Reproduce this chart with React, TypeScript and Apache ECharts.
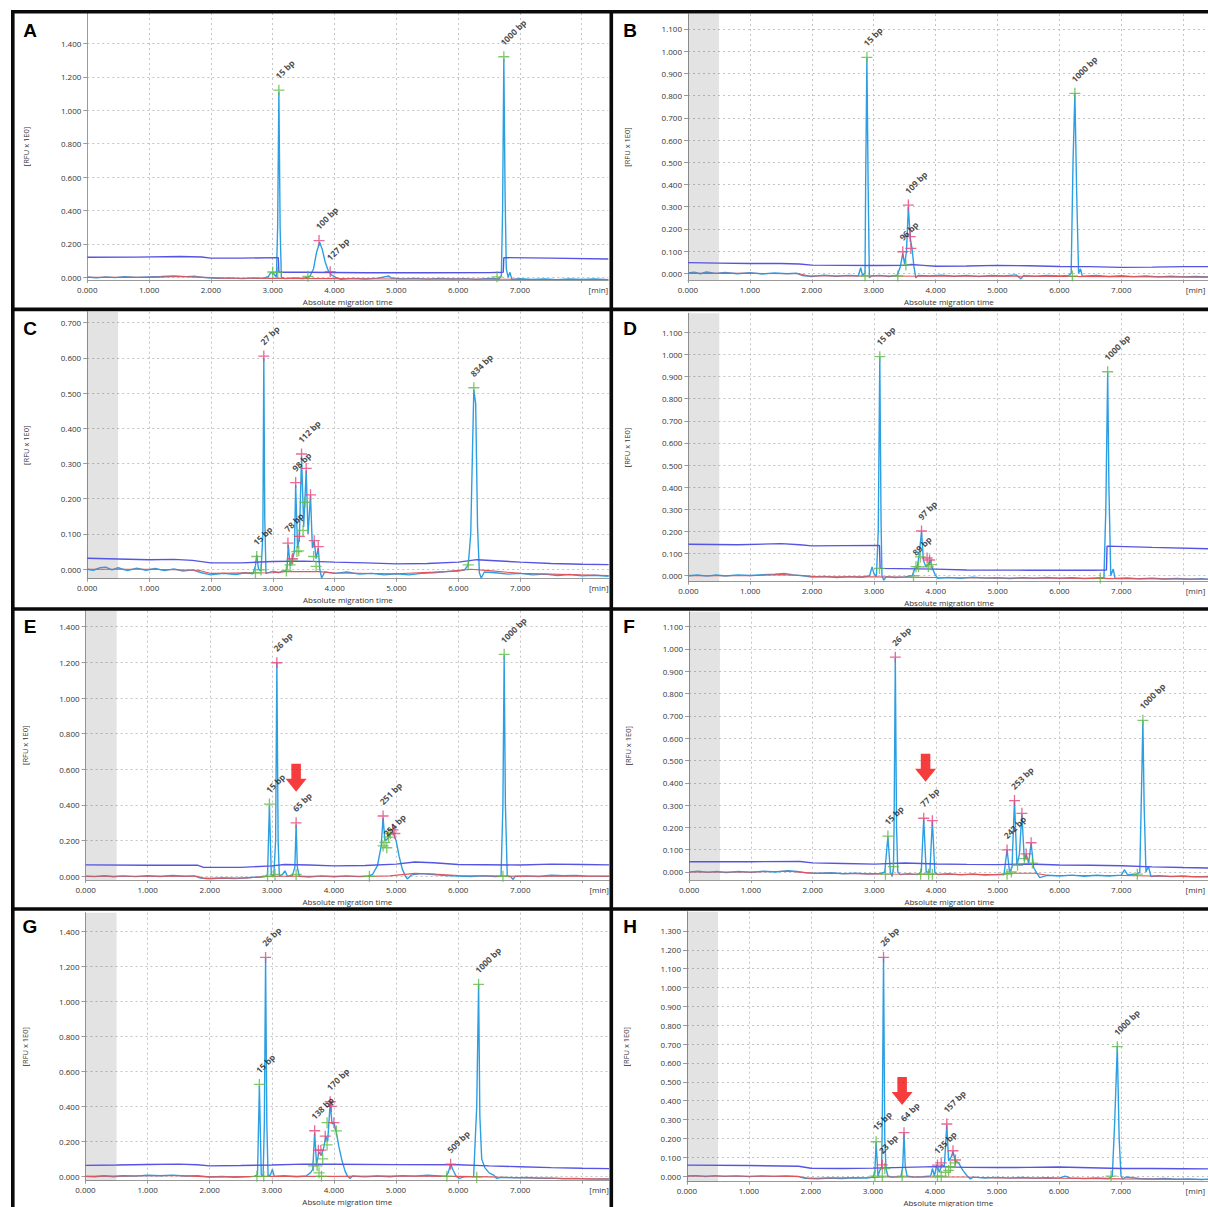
import React, { useEffect, useRef } from "react";
import * as echarts from "echarts";

// ---------- shared axis values ----------
const xTicks = [0, 1, 2, 3, 4, 5, 6, 7, 8];
const xTickLabels = [0, 1, 2, 3, 4, 5, 6, 7];
const shadeRange = [0, 0.5];

// ---------- Panel A ----------
const A_yTicks = [0, 0.2, 0.4, 0.6, 0.8, 1.0, 1.2, 1.4];
const A_trace = [[0,0.002],[0.15,-0.003],[0.3,0.003],[0.45,-0.002],[0.6,0.004],[0.8,0.0],[1.0,0.003],[1.2,0.005],[1.4,0.008],[1.6,0.004],[1.75,0.006],[1.9,-0.002],[2.1,-0.006],[2.3,-0.003],[2.5,-0.008],[2.7,-0.004],[2.85,-0.006],[2.93,0.005],[2.97,0.03],[3.02,0.02],[3.06,0.0],[3.08,0.3],[3.1,1.11],[3.12,0.3],[3.14,0.0],[3.2,-0.008],[3.35,-0.004],[3.5,-0.007],[3.6,0.005],[3.66,0.05],[3.71,0.15],[3.76,0.21],[3.8,0.17],[3.85,0.09],[3.9,0.04],[3.95,0.015],[4.02,0.0],[4.1,-0.012],[4.3,-0.006],[4.5,-0.01],[4.7,-0.005],[4.88,0.008],[4.92,-0.004],[5.1,-0.009],[5.3,-0.006],[5.5,-0.011],[5.7,-0.007],[5.9,-0.01],[6.1,-0.008],[6.3,-0.012],[6.5,-0.007],[6.66,-0.01],[6.7,0.01],[6.72,0.4],[6.74,1.31],[6.76,0.5],[6.78,0.05],[6.81,0.0],[6.84,0.03],[6.87,-0.012],[7.0,-0.008],[7.2,-0.013],[7.4,-0.009],[7.6,-0.014],[7.8,-0.01],[8.0,-0.013],[8.2,-0.01],[8.43,-0.014]];
const A_threshold = [[0,0.12],[0.8,0.121],[1.5,0.125],[1.85,0.122],[2.0,0.115],[2.5,0.115],[3.09,0.118],[3.1,0.03],[3.5,0.03],[4.5,0.027],[5.5,0.027],[6.5,0.028],[6.73,0.03],[6.74,0.118],[7.5,0.115],[8.43,0.11]];
const A_base = [[0,0.0],[1.0,0.0],[1.5,0.005],[1.9,0.0],[2.2,-0.005],[3.0,-0.006],[4.0,-0.008],[5.0,-0.01],[6.0,-0.01],[7.0,-0.012],[8.43,-0.013]];
const A_green = [[3.1,1.12],[3.0,0.032],[3.08,0.03],[3.57,0.006],[6.74,1.32],[6.63,0.003]];
const A_pink = [[3.75,0.22],[3.93,0.034]];
const A_labels = [[3.1,1.12,"15 bp"],[3.75,0.22,"100 bp"],[3.93,0.034,"127 bp"],[6.74,1.32,"1000 bp"]];
const A_arrows = [];

// ---------- Panel B ----------
const B_yTicks = [0, 0.1, 0.2, 0.3, 0.4, 0.5, 0.6, 0.7, 0.8, 0.9, 1.0, 1.1];
const B_trace = [[0,0.002],[0.1,0.005],[0.2,-0.002],[0.3,0.006],[0.45,0.0],[0.6,0.004],[0.8,-0.002],[1.0,0.003],[1.2,-0.003],[1.4,0.002],[1.6,-0.002],[1.75,0.001],[1.85,-0.01],[2.0,-0.014],[2.2,-0.008],[2.4,-0.013],[2.6,-0.009],[2.75,-0.012],[2.79,0.025],[2.82,-0.01],[2.86,0.0],[2.87,0.4],[2.89,0.97],[2.91,0.4],[2.93,-0.02],[2.96,-0.012],[3.1,-0.009],[3.25,-0.014],[3.38,-0.008],[3.43,0.03],[3.47,0.09],[3.5,0.04],[3.53,0.1],[3.56,0.3],[3.59,0.16],[3.62,0.11],[3.65,0.03],[3.68,-0.02],[3.72,-0.01],[3.9,-0.012],[4.1,-0.008],[4.3,-0.013],[4.5,-0.009],[4.7,-0.014],[4.9,-0.01],[5.1,-0.012],[5.3,-0.007],[5.38,-0.025],[5.42,-0.01],[5.6,-0.013],[5.8,-0.009],[6.0,-0.012],[6.15,-0.01],[6.19,0.0],[6.22,0.5],[6.25,0.81],[6.28,0.35],[6.31,0.0],[6.34,0.02],[6.37,-0.013],[6.6,-0.01],[6.8,-0.014],[7.0,-0.011],[7.2,-0.015],[7.4,-0.012],[7.6,-0.016],[7.8,-0.013],[8.0,-0.016],[8.2,-0.014],[8.43,-0.017]];
const B_threshold = [[0,0.048],[0.5,0.046],[1.0,0.044],[1.5,0.044],[1.8,0.042],[2.0,0.037],[2.5,0.036],[3.0,0.035],[3.5,0.036],[3.6,0.04],[3.8,0.036],[4.0,0.032],[4.5,0.033],[5.0,0.036],[5.5,0.034],[6.0,0.031],[6.5,0.03],[7.0,0.027],[7.5,0.028],[8.0,0.03],[8.43,0.03]];
const B_base = [[0,0.0],[1.0,0.0],[1.8,-0.002],[1.95,-0.012],[3.0,-0.012],[4.0,-0.013],[5.0,-0.013],[6.0,-0.014],[7.0,-0.015],[8.43,-0.017]];
const B_green = [[2.89,0.972],[2.86,-0.012],[3.39,-0.012],[3.52,0.037],[6.25,0.81],[6.21,-0.012]];
const B_pink = [[3.56,0.307],[3.59,0.165],[3.47,0.097],[3.6,0.112]];
const B_labels = [[2.89,0.972,"15 bp"],[3.56,0.307,"109 bp"],[3.47,0.097,"96 bp"],[6.25,0.81,"1000 bp"]];
const B_arrows = [];

// ---------- Panel C ----------
const C_yTicks = [0, 0.1, 0.2, 0.3, 0.4, 0.5, 0.6, 0.7];
const C_trace = [[0,0.0],[0.1,-0.003],[0.2,0.004],[0.3,0.006],[0.4,-0.002],[0.5,0.004],[0.65,-0.004],[0.8,0.003],[0.95,-0.003],[1.1,0.002],[1.25,-0.004],[1.4,0.001],[1.55,-0.005],[1.7,-0.002],[1.85,-0.01],[2.0,-0.016],[2.2,-0.012],[2.4,-0.015],[2.55,-0.01],[2.68,-0.013],[2.72,0.01],[2.74,0.04],[2.77,0.0],[2.81,-0.005],[2.84,0.1],[2.855,0.6],[2.87,0.15],[2.89,-0.012],[3.0,-0.006],[3.1,-0.01],[3.2,-0.004],[3.23,0.0],[3.25,0.07],[3.28,0.01],[3.32,0.03],[3.35,0.05],[3.37,0.24],[3.4,0.06],[3.43,0.09],[3.465,0.32],[3.5,0.12],[3.54,0.28],[3.57,0.1],[3.61,0.21],[3.64,0.06],[3.67,0.08],[3.7,0.03],[3.735,0.06],[3.76,0.0],[3.79,-0.025],[3.84,-0.008],[4.0,-0.012],[4.2,-0.008],[4.4,-0.014],[4.6,-0.012],[4.8,-0.016],[5.0,-0.013],[5.2,-0.016],[5.4,-0.012],[5.6,-0.01],[5.8,-0.007],[6.0,-0.005],[6.1,-0.002],[6.16,0.012],[6.2,0.1],[6.23,0.35],[6.25,0.51],[6.28,0.47],[6.31,0.12],[6.34,-0.01],[6.37,-0.025],[6.42,-0.008],[6.6,-0.01],[6.8,-0.014],[7.0,-0.012],[7.2,-0.016],[7.4,-0.014],[7.6,-0.018],[7.8,-0.015],[8.0,-0.019],[8.2,-0.017],[8.43,-0.02]];
const C_threshold = [[0,0.031],[0.5,0.029],[1.0,0.027],[1.4,0.028],[1.7,0.025],[2.0,0.018],[2.5,0.018],[3.0,0.022],[3.5,0.023],[4.0,0.02],[4.5,0.018],[5.0,0.015],[5.5,0.016],[6.0,0.02],[6.3,0.027],[6.6,0.024],[7.0,0.02],[7.5,0.016],[8.0,0.014],[8.43,0.013]];
const C_base = [[0,0.0],[1.0,0.0],[1.8,-0.003],[2.0,-0.012],[3.0,-0.01],[3.2,-0.007],[3.75,-0.007],[4.0,-0.011],[5.0,-0.013],[5.8,-0.007],[6.2,0.0],[6.5,-0.004],[7.0,-0.012],[8.43,-0.018]];
const C_green = [[2.74,0.036],[2.72,-0.01],[2.81,-0.002],[3.22,-0.005],[3.28,0.012],[3.31,0.026],[3.39,0.05],[3.42,0.052],[3.49,0.11],[3.52,0.19],[3.66,0.036],[3.7,0.008],[6.25,0.515],[6.16,0.012]];
const C_pink = [[2.855,0.605],[3.245,0.074],[3.32,0.03],[3.37,0.246],[3.43,0.093],[3.465,0.327],[3.54,0.286],[3.61,0.211],[3.67,0.081],[3.735,0.064]];
const C_labels = [[2.855,0.605,"27 bp"],[2.74,0.036,"15 bp"],[3.245,0.074,"78 bp"],[3.37,0.246,"98 bp"],[3.465,0.327,"112 bp"],[6.25,0.515,"834 bp"]];
const C_arrows = [];

// ---------- Panel D ----------
const D_yTicks = [0, 0.1, 0.2, 0.3, 0.4, 0.5, 0.6, 0.7, 0.8, 0.9, 1.0, 1.1];
const D_trace = [[0,0.0],[0.15,0.003],[0.3,-0.002],[0.45,0.003],[0.6,-0.001],[0.8,0.004],[1.0,0.001],[1.2,0.005],[1.4,0.007],[1.55,0.01],[1.7,0.004],[1.85,0.0],[2.0,-0.006],[2.2,-0.003],[2.4,-0.008],[2.6,-0.004],[2.8,-0.007],[2.93,0.0],[2.97,0.04],[3.0,0.01],[3.04,-0.005],[3.07,0.2],[3.095,0.99],[3.115,0.25],[3.13,0.0],[3.16,-0.02],[3.2,-0.004],[3.35,-0.008],[3.5,-0.005],[3.62,0.0],[3.66,0.03],[3.7,0.04],[3.73,0.09],[3.77,0.2],[3.8,0.07],[3.84,0.04],[3.88,0.05],[3.91,0.07],[3.95,0.03],[3.99,0.005],[4.03,-0.012],[4.2,-0.008],[4.4,-0.012],[4.6,-0.007],[4.8,-0.011],[5.0,-0.009],[5.2,-0.013],[5.4,-0.009],[5.6,-0.012],[5.8,-0.008],[6.0,-0.012],[6.2,-0.009],[6.4,-0.013],[6.6,-0.01],[6.72,-0.008],[6.75,0.3],[6.78,0.92],[6.8,0.4],[6.83,0.0],[6.87,0.03],[6.9,-0.012],[7.1,-0.01],[7.3,-0.014],[7.5,-0.011],[7.7,-0.015],[7.9,-0.012],[8.1,-0.016],[8.3,-0.013],[8.43,-0.016]];
const D_threshold = [[0,0.142],[0.8,0.14],[1.5,0.145],[1.8,0.14],[2.0,0.135],[2.5,0.136],[3.09,0.137],[3.1,0.033],[4.0,0.03],[4.5,0.026],[5.5,0.025],[6.5,0.025],[6.76,0.026],[6.77,0.134],[7.5,0.128],[8.43,0.122]];
const D_base = [[0,0.0],[1.0,0.0],[1.5,0.005],[1.9,0.0],[2.1,-0.005],[3.0,-0.005],[4.0,-0.008],[5.0,-0.01],[6.0,-0.011],[7.0,-0.013],[8.43,-0.016]];
const D_green = [[3.095,0.99],[3.09,0.033],[3.64,0.0],[3.68,0.041],[3.72,0.04],[3.75,0.085],[3.88,0.04],[3.93,0.05],[6.78,0.922],[6.66,-0.01]];
const D_pink = [[3.77,0.202],[3.9,0.071],[3.86,0.08]];
const D_labels = [[3.095,0.99,"15 bp"],[3.77,0.202,"97 bp"],[3.68,0.041,"89 bp"],[6.78,0.922,"1000 bp"]];
const D_arrows = [];

// ---------- Panel E ----------
const E_yTicks = [0, 0.2, 0.4, 0.6, 0.8, 1.0, 1.2, 1.4];
const E_trace = [[0,0.0],[0.15,-0.002],[0.3,0.003],[0.45,-0.003],[0.6,0.002],[0.8,-0.002],[1.0,0.003],[1.2,-0.001],[1.4,0.004],[1.6,0.0],[1.75,0.002],[1.85,-0.01],[2.0,-0.014],[2.2,-0.01],[2.4,-0.013],[2.6,-0.008],[2.8,-0.004],[2.9,0.0],[2.93,0.01],[2.96,0.4],[2.99,0.01],[3.03,0.0],[3.06,0.2],[3.08,1.2],[3.1,0.2],[3.12,0.0],[3.17,0.01],[3.21,0.03],[3.25,0.0],[3.33,0.005],[3.37,0.05],[3.39,0.29],[3.41,0.05],[3.44,0.0],[3.6,-0.004],[3.8,0.002],[4.0,-0.003],[4.2,0.002],[4.4,-0.002],[4.55,0.0],[4.62,0.01],[4.7,0.06],[4.76,0.17],[4.79,0.33],[4.82,0.2],[4.86,0.21],[4.9,0.23],[4.95,0.25],[5.0,0.2],[5.05,0.11],[5.1,0.04],[5.15,0.0],[5.18,-0.015],[5.25,0.008],[5.4,0.015],[5.6,0.01],[5.8,0.004],[6.0,0.001],[6.2,-0.002],[6.4,0.002],[6.6,-0.002],[6.69,0.0],[6.72,0.4],[6.74,1.24],[6.76,0.4],[6.79,0.0],[6.85,-0.003],[6.88,-0.018],[6.92,0.0],[7.1,0.002],[7.3,-0.001],[7.5,0.006],[7.7,0.003],[7.9,0.005],[8.1,0.001],[8.43,0.0]];
const E_threshold = [[0,0.064],[1.0,0.062],[1.8,0.062],[1.9,0.05],[2.5,0.05],[3.0,0.058],[3.2,0.066],[3.6,0.063],[4.0,0.058],[4.5,0.06],[5.0,0.068],[5.3,0.08],[5.6,0.076],[6.0,0.066],[7.0,0.063],[7.5,0.068],[8.0,0.066],[8.43,0.064]];
const E_base = [[0,0.0],[1.8,0.0],[1.9,-0.012],[2.6,-0.009],[3.0,0.0],[4.6,0.0],[4.9,0.002],[5.3,0.016],[5.6,0.013],[6.0,0.004],[7.0,0.0],[8.43,0.0]];
const E_green = [[2.96,0.405],[2.93,0.0],[3.05,0.01],[3.39,0.01],[4.57,0.0],[4.79,0.17],[4.82,0.19],[4.85,0.16],[4.88,0.22],[4.91,0.24],[6.74,1.245],[6.72,0.0]];
const E_pink = [[3.08,1.198],[3.39,0.3],[4.79,0.338],[4.95,0.26],[4.98,0.24]];
const E_labels = [[3.08,1.198,"26 bp"],[2.96,0.405,"15 bp"],[3.39,0.3,"65 bp"],[4.79,0.338,"251 bp"],[4.85,0.16,"254 bp"],[6.74,1.245,"1000 bp"]];
const E_arrows = [[3.39,0.474]];

// ---------- Panel F ----------
const F_yTicks = [0, 0.1, 0.2, 0.3, 0.4, 0.5, 0.6, 0.7, 0.8, 0.9, 1.0, 1.1];
const F_trace = [[0,0.0],[0.15,0.003],[0.3,-0.002],[0.45,0.002],[0.6,-0.003],[0.8,0.002],[1.0,-0.002],[1.2,0.003],[1.4,0.0],[1.6,0.006],[1.75,0.002],[1.9,-0.004],[2.1,-0.006],[2.3,-0.003],[2.5,-0.008],[2.7,-0.005],[2.9,-0.009],[3.1,-0.007],[3.17,0.0],[3.22,0.16],[3.26,0.0],[3.29,-0.02],[3.31,0.02],[3.32,0.2],[3.34,0.96],[3.36,0.2],[3.38,0.0],[3.42,-0.012],[3.55,-0.008],[3.7,-0.012],[3.76,0.0],[3.8,0.24],[3.84,0.0],[3.9,0.0],[3.94,0.23],[3.98,0.0],[4.02,-0.012],[4.2,-0.008],[4.4,-0.013],[4.6,-0.009],[4.8,-0.014],[5.0,-0.011],[5.1,-0.013],[5.15,0.1],[5.19,0.0],[5.23,0.02],[5.27,0.32],[5.31,0.03],[5.35,0.08],[5.39,0.26],[5.43,0.05],[5.46,0.08],[5.5,0.04],[5.54,0.13],[5.58,0.02],[5.62,0.0],[5.68,-0.025],[5.8,-0.015],[6.0,-0.018],[6.2,-0.014],[6.4,-0.019],[6.6,-0.015],[6.8,-0.018],[7.0,-0.014],[7.05,0.01],[7.1,-0.012],[7.25,-0.01],[7.3,0.0],[7.33,0.4],[7.35,0.68],[7.37,0.3],[7.4,0.0],[7.44,0.025],[7.48,-0.02],[7.6,-0.017],[7.8,-0.021],[8.0,-0.018],[8.2,-0.022],[8.43,-0.02]];
const F_threshold = [[0,0.046],[1.0,0.046],[1.8,0.047],[2.0,0.041],[2.5,0.038],[3.0,0.035],[3.5,0.04],[4.0,0.036],[4.5,0.034],[5.0,0.033],[5.5,0.036],[6.0,0.031],[6.5,0.03],[7.0,0.028],[7.5,0.023],[8.0,0.02],[8.43,0.018]];
const F_base = [[0,0.0],[1.0,0.0],[1.6,0.003],[2.0,-0.005],[3.0,-0.009],[4.0,-0.01],[5.0,-0.012],[5.2,-0.006],[5.6,-0.006],[5.8,-0.015],[7.0,-0.016],[8.43,-0.022]];
const F_green = [[3.22,0.161],[3.18,-0.01],[3.31,0.024],[3.75,-0.01],[3.88,-0.01],[3.94,-0.01],[5.15,-0.01],[5.22,0.0],[5.32,0.03],[5.43,0.06],[5.56,0.04],[7.35,0.68],[7.26,-0.01]];
const F_pink = [[3.34,0.963],[3.8,0.241],[3.94,0.23],[5.27,0.32],[5.39,0.263],[5.15,0.099],[5.54,0.131],[5.46,0.081]];
const F_labels = [[3.34,0.963,"26 bp"],[3.22,0.161,"15 bp"],[3.8,0.241,"77 bp"],[5.27,0.32,"253 bp"],[5.15,0.099,"242 bp"],[7.35,0.68,"1000 bp"]];
const F_arrows = [[3.83,0.405]];

// ---------- Panel G ----------
const G_yTicks = [0, 0.2, 0.4, 0.6, 0.8, 1.0, 1.2, 1.4];
const G_trace = [[0,0.0],[0.15,-0.002],[0.3,0.003],[0.45,-0.002],[0.6,0.003],[0.8,0.001],[1.0,0.006],[1.2,0.003],[1.4,0.007],[1.6,0.002],[1.8,0.004],[2.0,-0.004],[2.2,-0.001],[2.4,-0.005],[2.6,-0.002],[2.72,0.0],[2.77,0.01],[2.8,0.52],[2.83,0.01],[2.86,0.0],[2.88,0.3],[2.9,1.25],[2.92,0.3],[2.94,0.0],[2.98,0.01],[3.01,0.04],[3.04,0.0],[3.2,0.003],[3.4,-0.002],[3.55,0.002],[3.62,0.02],[3.66,0.04],[3.69,0.25],[3.72,0.07],[3.76,0.14],[3.8,0.12],[3.84,0.17],[3.87,0.23],[3.9,0.2],[3.94,0.42],[3.97,0.3],[4.0,0.31],[4.04,0.25],[4.08,0.17],[4.13,0.09],[4.18,0.03],[4.22,0.0],[4.26,-0.012],[4.3,0.002],[4.5,-0.003],[4.7,0.002],[4.9,-0.002],[5.1,0.004],[5.3,0.001],[5.5,0.006],[5.7,0.002],[5.8,0.0],[5.84,0.02],[5.88,0.07],[5.92,0.035],[5.97,0.0],[6.02,-0.012],[6.1,-0.003],[6.25,0.0],[6.3,0.4],[6.33,1.1],[6.35,0.35],[6.38,0.1],[6.43,0.05],[6.5,0.02],[6.58,0.005],[6.62,-0.012],[6.7,-0.006],[6.9,-0.009],[7.1,-0.007],[7.3,-0.011],[7.5,-0.01],[7.7,-0.014],[7.9,-0.012],[8.1,-0.016],[8.43,-0.015]];
const G_threshold = [[0,0.063],[0.5,0.065],[1.0,0.068],[1.5,0.07],[1.8,0.066],[2.0,0.06],[2.5,0.062],[3.0,0.065],[3.5,0.07],[4.0,0.069],[5.0,0.067],[6.0,0.066],[6.5,0.06],[7.0,0.055],[7.5,0.05],[8.0,0.046],[8.43,0.044]];
const G_base = [[0,0.0],[1.0,0.003],[1.5,0.003],[2.0,-0.003],[3.0,0.0],[4.0,0.0],[5.0,0.002],[6.0,0.0],[6.5,-0.003],[7.0,-0.008],[8.43,-0.015]];
const G_green = [[2.8,0.526],[2.76,0.0],[2.87,0.0],[3.67,0.06],[3.73,0.06],[3.76,0.02],[3.8,0.0],[3.82,0.1],[3.89,0.18],[3.89,0.307],[4.04,0.26],[5.82,0.0],[6.33,1.099],[6.3,-0.005]];
const G_pink = [[2.9,1.253],[3.69,0.261],[3.75,0.15],[3.79,0.15],[3.86,0.23],[3.94,0.427],[3.96,0.4],[4.0,0.307],[5.88,0.069]];
const G_labels = [[2.9,1.253,"26 bp"],[2.8,0.526,"15 bp"],[3.94,0.427,"170 bp"],[3.69,0.261,"138 bp"],[5.88,0.069,"509 bp"],[6.33,1.099,"1000 bp"]];
const G_arrows = [];

// ---------- Panel H ----------
const H_yTicks = [0, 0.1, 0.2, 0.3, 0.4, 0.5, 0.6, 0.7, 0.8, 0.9, 1.0, 1.1, 1.2, 1.3];
const H_trace = [[0,0.0],[0.15,0.002],[0.3,-0.003],[0.45,0.002],[0.6,-0.002],[0.8,0.001],[1.0,-0.003],[1.2,0.001],[1.4,-0.002],[1.6,0.001],[1.8,-0.003],[1.9,-0.012],[2.1,-0.014],[2.3,-0.01],[2.5,-0.013],[2.7,-0.009],[2.9,-0.011],[3.0,-0.005],[3.03,0.02],[3.05,0.18],[3.08,0.0],[3.11,0.03],[3.14,0.05],[3.15,0.3],[3.17,1.16],[3.19,0.2],[3.21,0.04],[3.24,0.0],[3.3,-0.006],[3.45,-0.003],[3.48,0.05],[3.5,0.23],[3.52,0.05],[3.55,0.0],[3.65,-0.006],[3.8,-0.004],[3.93,0.0],[3.96,0.04],[3.99,0.0],[4.03,0.06],[4.07,0.02],[4.11,0.06],[4.15,0.05],[4.19,0.27],[4.22,0.08],[4.26,0.1],[4.29,0.13],[4.33,0.08],[4.38,0.07],[4.45,0.03],[4.52,0.0],[4.57,-0.015],[4.62,-0.006],[4.8,-0.01],[5.0,-0.007],[5.2,-0.011],[5.4,-0.008],[5.6,-0.012],[5.8,-0.009],[6.0,-0.011],[6.1,0.0],[6.18,-0.01],[6.4,-0.013],[6.6,-0.01],[6.8,-0.013],[6.86,0.0],[6.9,0.3],[6.94,0.69],[6.97,0.2],[7.0,0.0],[7.03,-0.015],[7.08,-0.005],[7.3,-0.013],[7.5,-0.016],[7.7,-0.013],[7.9,-0.017],[8.1,-0.015],[8.3,-0.018],[8.43,-0.016]];
const H_threshold = [[0,0.058],[1.0,0.056],[1.8,0.052],[2.0,0.041],[2.5,0.04],[3.0,0.042],[3.5,0.046],[4.0,0.05],[4.5,0.046],[5.0,0.045],[5.5,0.046],[6.0,0.048],[6.5,0.044],[7.0,0.04],[7.5,0.04],[8.0,0.039],[8.43,0.038]];
const H_base = [[0,0.0],[1.8,-0.002],[1.95,-0.012],[3.0,-0.008],[3.2,-0.005],[4.5,-0.005],[5.0,-0.01],[6.0,-0.012],[7.0,-0.015],[8.43,-0.018]];
const H_green = [[3.05,0.182],[3.03,0.0],[3.15,0.0],[3.19,0.04],[3.47,0.0],[4.04,0.0],[4.1,0.0],[4.17,0.02],[4.22,0.03],[4.25,0.05],[4.32,0.07],[6.94,0.686],[6.84,0.0]];
const H_pink = [[3.17,1.16],[3.15,0.059],[3.5,0.23],[4.19,0.276],[4.04,0.058],[4.1,0.07],[4.29,0.134],[4.33,0.085]];
const H_labels = [[3.17,1.16,"26 bp"],[3.05,0.182,"15 bp"],[3.15,0.059,"23 bp"],[3.5,0.23,"64 bp"],[4.19,0.276,"157 bp"],[4.04,0.058,"135 bp"],[6.94,0.686,"1000 bp"]];
const H_arrows = [[3.47,0.377]];

// ---------- assemble panels (data) ----------
const panels = [
  { id: "A", yTicks: A_yTicks, trace: A_trace, threshold: A_threshold, base: A_base, green: A_green, pink: A_pink, labels: A_labels, arrows: A_arrows, shaded: false },
  { id: "B", yTicks: B_yTicks, trace: B_trace, threshold: B_threshold, base: B_base, green: B_green, pink: B_pink, labels: B_labels, arrows: B_arrows, shaded: true },
  { id: "C", yTicks: C_yTicks, trace: C_trace, threshold: C_threshold, base: C_base, green: C_green, pink: C_pink, labels: C_labels, arrows: C_arrows, shaded: true },
  { id: "D", yTicks: D_yTicks, trace: D_trace, threshold: D_threshold, base: D_base, green: D_green, pink: D_pink, labels: D_labels, arrows: D_arrows, shaded: true },
  { id: "E", yTicks: E_yTicks, trace: E_trace, threshold: E_threshold, base: E_base, green: E_green, pink: E_pink, labels: E_labels, arrows: E_arrows, shaded: true },
  { id: "F", yTicks: F_yTicks, trace: F_trace, threshold: F_threshold, base: F_base, green: F_green, pink: F_pink, labels: F_labels, arrows: F_arrows, shaded: true },
  { id: "G", yTicks: G_yTicks, trace: G_trace, threshold: G_threshold, base: G_base, green: G_green, pink: G_pink, labels: G_labels, arrows: G_arrows, shaded: true },
  { id: "H", yTicks: H_yTicks, trace: H_trace, threshold: H_threshold, base: H_base, green: H_green, pink: H_pink, labels: H_labels, arrows: H_arrows, shaded: true },
];

// ---------- layout (positions / sizes, px) ----------
const X_MAX = 8.43;
const layout = [
  { left: 87.3, top: 13, ppm: 61.8, height: 267, ymin: -0.016, ymax: 1.582, unitAt: 8.27, letter: [30, 30] },
  { left: 688, top: 14, ppm: 61.9, height: 266, ymin: -0.03, ymax: 1.167, unitAt: 8.2, letter: [630, 30] },
  { left: 87.2, top: 311.7, ppm: 61.86, height: 267, ymin: -0.027, ymax: 0.731, unitAt: 8.27, letter: [30, 328] },
  { left: 688.4, top: 313.3, ppm: 61.84, height: 268.4, ymin: -0.027, ymax: 1.186, unitAt: 8.2, letter: [630, 328] },
  { left: 85.6, top: 610.7, ppm: 62.1, height: 269.3, ymin: -0.021, ymax: 1.49, unitAt: 8.27, letter: [30, 626] },
  { left: 689.1, top: 611.7, ppm: 61.74, height: 268.3, ymin: -0.036, ymax: 1.167, unitAt: 8.2, letter: [629, 626] },
  { left: 85.5, top: 912.7, ppm: 62.1, height: 268, ymin: -0.025, ymax: 1.509, unitAt: 8.27, letter: [30, 926] },
  { left: 687, top: 911.7, ppm: 62.0, height: 270, ymin: -0.03, ymax: 1.402, unitAt: 8.2, letter: [630, 926] },
];

const FONT = "'Open Sans', 'Noto Sans', sans-serif";
const CROSS = "path://M4.4,0H5.6V4.4H10V5.6H5.6V10H4.4V5.6H0V4.4H4.4Z";
const ARROW = "path://M6,0H16V15H22L11,28L0,15H6Z";

function buildOption() {
  const grid: any[] = [];
  const xAxis: any[] = [];
  const yAxis: any[] = [];
  const series: any[] = [];
  const graphic: any[] = [];

  panels.forEach((p, i) => {
    const L = layout[i];
    grid.push({
      left: L.left,
      top: L.top,
      width: X_MAX * L.ppm,
      height: L.height,
      containLabel: false,
      outerBoundsMode: "none",
    });
    xAxis.push({
      gridIndex: i,
      type: "value",
      min: 0,
      max: X_MAX,
      name: "Absolute migration time",
      nameLocation: "middle",
      nameGap: 17,
      nameTextStyle: { fontSize: 8, color: "#333", fontFamily: FONT },
      axisLine: { show: true, onZero: false, lineStyle: { color: "#9a9a9a", width: 1 } },
      axisTick: { show: true, length: 3, customValues: xTicks, lineStyle: { color: "#9a9a9a" } },
      axisLabel: {
        customValues: [...xTickLabels, L.unitAt],
        formatter: (v: number) => (v > 8.1 ? "[min]" : v.toFixed(3)),
        fontSize: 8,
        color: "#333",
        margin: 5,
        fontFamily: FONT,
        hideOverlap: false,
      },
      splitLine: { show: true, lineStyle: { type: [2, 3], color: "#c4c4c4", width: 1 } },
    });
    yAxis.push({
      gridIndex: i,
      type: "value",
      min: L.ymin,
      max: L.ymax,
      name: "[RFU x 1E0]",
      nameLocation: "middle",
      nameRotate: 90,
      nameGap: 57,
      nameTextStyle: { fontSize: 7.5, color: "#333", fontFamily: FONT },
      axisLine: { show: true, lineStyle: { color: "#9a9a9a", width: 1 } },
      axisTick: { show: true, length: 4, customValues: p.yTicks, lineStyle: { color: "#9a9a9a" } },
      axisLabel: {
        customValues: p.yTicks,
        formatter: (v: number) => v.toFixed(3),
        fontSize: 8,
        color: "#333",
        margin: 6,
        fontFamily: FONT,
      },
      splitLine: { show: true, lineStyle: { type: [2, 3], color: "#c4c4c4", width: 1 } },
    });

    series.push({
      type: "line",
      xAxisIndex: i,
      yAxisIndex: i,
      data: p.trace,
      symbol: "none",
      silent: true,
      z: 2,
      lineStyle: { color: "#2c9fe3", width: 1.4 },
      markArea: p.shaded
        ? {
            silent: true,
            itemStyle: { color: "rgba(0,0,0,0.11)" },
            data: [[{ xAxis: shadeRange[0] }, { xAxis: shadeRange[1] }]],
          }
        : undefined,
    });
    series.push({
      type: "line",
      xAxisIndex: i,
      yAxisIndex: i,
      data: p.base,
      symbol: "none",
      silent: true,
      z: 3,
      lineStyle: { color: "#e2545a", width: 1.1 },
    });
    series.push({
      type: "line",
      xAxisIndex: i,
      yAxisIndex: i,
      data: p.threshold,
      symbol: "none",
      silent: true,
      z: 3,
      lineStyle: { color: "#5654e2", width: 1.4 },
    });
    series.push({
      type: "scatter",
      xAxisIndex: i,
      yAxisIndex: i,
      data: p.green,
      symbol: CROSS,
      symbolSize: 11,
      silent: true,
      z: 4,
      itemStyle: { color: "#5fbb47" },
    });
    series.push({
      type: "scatter",
      xAxisIndex: i,
      yAxisIndex: i,
      data: p.pink,
      symbol: CROSS,
      symbolSize: 11,
      silent: true,
      z: 4,
      itemStyle: { color: "#e5457a" },
    });
    series.push({
      type: "scatter",
      xAxisIndex: i,
      yAxisIndex: i,
      data: p.labels.map((l: any) => ({ value: [l[0], l[1]], name: l[2] })),
      symbol: "circle",
      symbolSize: 10,
      silent: true,
      z: 5,
      itemStyle: { color: "rgba(0,0,0,0)" },
      label: {
        show: true,
        formatter: "{b}",
        position: "top",
        distance: 10,
        rotate: 45,
        align: "left",
        verticalAlign: "middle",
        offset: [-3, 0],
        fontSize: 8.5,
        fontWeight: "bold",
        color: "#1c1c1c",
        fontFamily: FONT,
      },
    });
    if (p.arrows.length) {
      series.push({
        type: "scatter",
        xAxisIndex: i,
        yAxisIndex: i,
        data: p.arrows,
        symbol: ARROW,
        symbolSize: [21, 28],
        symbolOffset: [0, "-50%"],
        silent: true,
        z: 6,
        itemStyle: { color: "#f20d0d" },
      });
    }

    graphic.push({
      type: "text",
      x: L.letter[0],
      y: L.letter[1],
      z: 100,
      style: {
        text: p.id,
        fill: "#000",
        fontSize: 19,
        fontWeight: "bold",
        fontFamily: "'Liberation Sans', Arial, sans-serif",
        align: "center",
        verticalAlign: "middle",
      },
    });
  });

  // black panel frame bars
  const bars = [
    { x: 11, y: 10, w: 1197, h: 3.6 },
    { x: 11, y: 10, w: 3.6, h: 1197 },
    { x: 609.5, y: 10, w: 3.6, h: 1197 },
    { x: 11, y: 307.6, w: 1197, h: 3.6 },
    { x: 11, y: 607.2, w: 1197, h: 3.6 },
    { x: 11, y: 907.2, w: 1197, h: 3.6 },
  ];
  bars.forEach((b) =>
    graphic.push({
      type: "rect",
      z: 90,
      shape: { x: b.x, y: b.y, width: b.w, height: b.h },
      style: { fill: "#0a0a0a" },
      silent: true,
    })
  );

  return {
    animation: false,
    backgroundColor: "#ffffff",
    textStyle: { fontFamily: FONT },
    grid,
    xAxis,
    yAxis,
    series,
    graphic,
  };
}

export default function App() {
  const ref = useRef<HTMLDivElement>(null);
  useEffect(() => {
    if (!ref.current) return;
    const chart = echarts.init(ref.current, null, { renderer: "svg" });
    chart.setOption(buildOption());
    return () => chart.dispose();
  }, []);
  return (
    <div
      ref={ref}
      style={{ position: "absolute", left: 0, top: 0, width: 1208, height: 1207, background: "#fff" }}
    />
  );
}
